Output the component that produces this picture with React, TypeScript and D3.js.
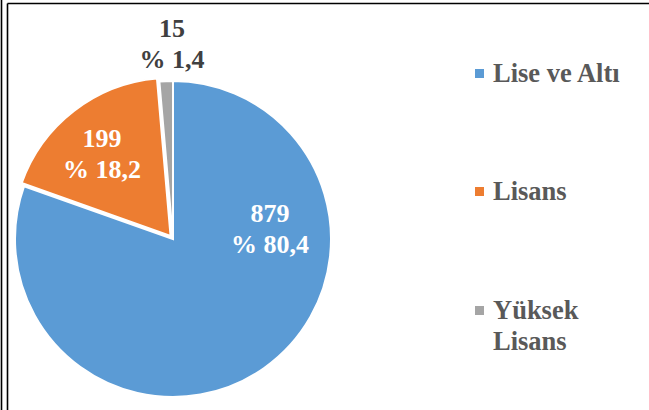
import React from "react";
import * as d3 from "d3";

const categories = ["Lise ve Altı", "Lisans", "Yüksek Lisans"];
const legendLines = [["Lise ve Altı"], ["Lisans"], ["Yüksek", "Lisans"]];
const values = [879, 199, 15];
const colors = ["#5B9BD5", "#ED7D31", "#A5A5A5"];
const labelColors = ["#FFFFFF", "#FFFFFF", "#404040"];
// label anchor offsets relative to pie center (first baseline)
const labelOffsets: [number, number][] = [
  [97, -17],
  [-71, -92],
  [-1, -202],
];
const explode = [0, 4, 0];

const W = 649;
const H = 410;
const cx = 173;
const cy = 239;
const R = 158;
const FONT = "'Liberation Serif', 'Times New Roman', serif";

export default function App() {
  const total = d3.sum(values);
  const pie = d3
    .pie<number>()
    .sort(null)
    .value((d) => d)
    .startAngle(0)
    .endAngle(2 * Math.PI);
  const arcs = pie(values);
  const arc = d3.arc<d3.PieArcDatum<number>>().innerRadius(0).outerRadius(R);
  const fmt = (v: number) => "% " + (Math.round((v / total) * 1000) / 10).toFixed(1).replace(".", ",");

  const legendY = [82, 200, 319];
  const ts: React.CSSProperties = { fontFamily: FONT, fontWeight: 700 };

  return (
    <svg
      width={W}
      height={H}
      style={{ position: "absolute", left: 0, top: 0, background: "#fff" }}
    >
      <rect x={0} y={0} width={W} height={H} fill="#fff" />
      <line x1={1.5} y1={0} x2={1.5} y2={H} stroke="#000" strokeWidth={1.6} />
      <line x1={7.5} y1={3.5} x2={7.5} y2={H} stroke="#000" strokeWidth={1.6} />
      <line x1={7.5} y1={3.5} x2={W} y2={3.5} stroke="#000" strokeWidth={1.6} />
      <g transform={`translate(${cx},${cy})`}>
        {arcs.map((a, i) => {
          const mid = (a.startAngle + a.endAngle) / 2;
          const ox = Math.sin(mid) * explode[i];
          const oy = -Math.cos(mid) * explode[i];
          return (
            <path
              key={i}
              d={arc(a) || ""}
              transform={`translate(${ox},${oy})`}
              fill={colors[i]}
              stroke="#fff"
              strokeWidth={2}
              strokeLinejoin="miter"
            />
          );
        })}
        {arcs.map((a, i) => (
          <text
            key={"l" + i}
            x={labelOffsets[i][0]}
            y={labelOffsets[i][1]}
            fill={labelColors[i]}
            fontSize={26}
            textAnchor="middle"
            style={ts}
          >
            <tspan x={labelOffsets[i][0]} dy={0}>
              {String(values[i])}
            </tspan>
            <tspan x={labelOffsets[i][0]} dy={31}>
              {fmt(values[i])}
            </tspan>
          </text>
        ))}
      </g>
      {categories.map((c, i) => (
        <g key={c}>
          <rect x={475} y={legendY[i] - 13} width={9} height={9} fill={colors[i]} />
          <text x={493} y={legendY[i]} fill="#595959" fontSize={26.5} style={ts}>
            {legendLines[i].map((ln, j) => (
              <tspan key={j} x={493} dy={j === 0 ? 0 : 31}>
                {ln}
              </tspan>
            ))}
          </text>
        </g>
      ))}
    </svg>
  );
}
